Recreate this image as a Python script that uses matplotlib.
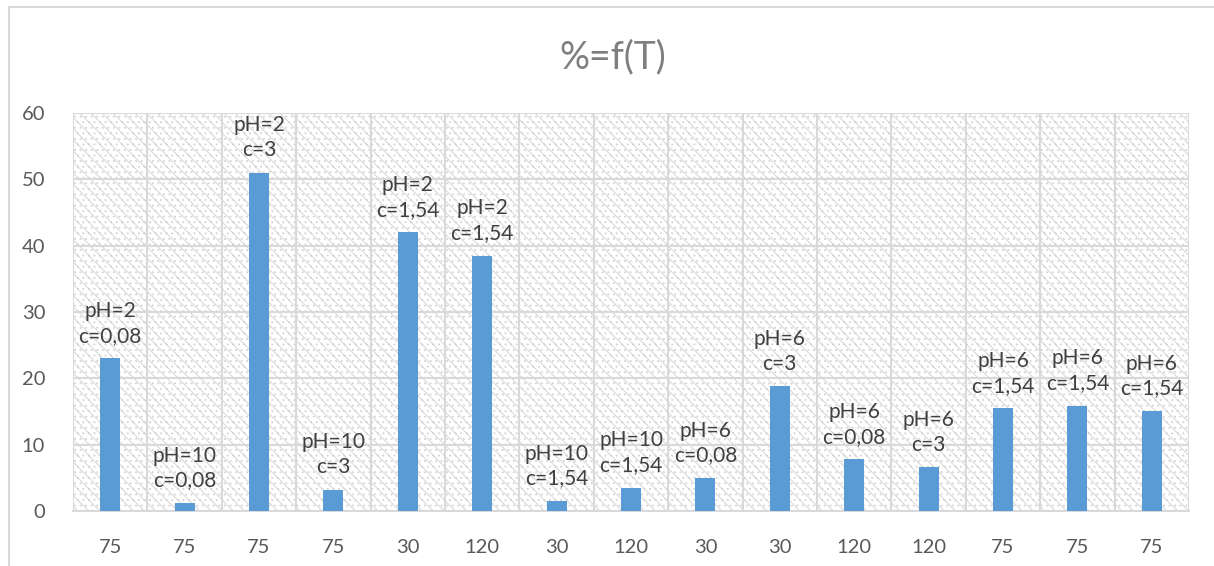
import numpy as np
import matplotlib.pyplot as plt
from matplotlib.patches import Rectangle

temps = ['75', '75', '75', '75', '30', '120', '30', '120', '30', '30', '120', '120', '75', '75', '75']
percent = [23, 1.2, 51, 3.2, 42, 38.5, 1.5, 3.5, 5, 18.8, 7.8, 6.6, 15.5, 15.9, 15.1]
ph = ['2', '10', '2', '10', '2', '2', '10', '10', '6', '6', '6', '6', '6', '6', '6']
conc = ['0,08', '0,08', '3', '3', '1,54', '1,54', '1,54', '1,54', '0,08', '3', '0,08', '3', '1,54', '1,54', '1,54']

plt.rcParams['font.family'] = ['Lato', 'DejaVu Sans']

fig = plt.figure(figsize=(12.14, 5.66), dpi=100)
# chart area border (only top/left visible in the crop)
fig.patches.append(Rectangle((9/1214, -0.1), 1.2, 1 - 6.5/566 + 0.1, transform=fig.transFigure,
                             fill=False, edgecolor='#D9D9D9', linewidth=1.5))

ax = fig.add_axes([73/1214, 1 - 511/566, 1116/1214, 398/566])
x = np.arange(len(percent))

# patterned background of the plot area
ax.set_facecolor('white')
plt.rcParams['hatch.linewidth'] = 0.7
bg = Rectangle((-0.5, 0), len(percent), 60, facecolor='white', edgecolor='#D6D6D6',
               hatch='\\\\\\...', linewidth=0, zorder=0)
ax.add_patch(bg)

ax.bar(x, percent, width=0.27, color='#5B9BD5', zorder=3)

for i in range(len(percent)):
    ax.annotate('pH=' + ph[i] + '\nc=' + conc[i], (x[i], percent[i]),
                xytext=(0, 9), textcoords='offset points', ha='center', va='bottom',
                fontsize=15, color='#404040', linespacing=1.3, zorder=4)

ax.set_xlim(-0.5, len(percent) - 0.5)
ax.set_ylim(0, 60)
ax.set_yticks(range(0, 61, 10))
ax.set_xticks(x)
ax.set_xticklabels(temps)
ax.set_xticks(np.arange(-0.5, len(percent), 1), minor=True)
ax.grid(axis='y', color='#D9D9D9', linewidth=1.5, zorder=1)
ax.grid(axis='x', which='minor', color='#D9D9D9', linewidth=1.5, zorder=1)
ax.tick_params(which='both', length=0)
ax.tick_params(axis='y', pad=20, labelsize=14.5, labelcolor='#595959')
ax.tick_params(axis='x', pad=20, labelsize=14.5, labelcolor='#595959')
for s in ['top', 'right', 'left']:
    ax.spines[s].set_visible(False)
ax.spines['bottom'].set_color('#D9D9D9')
ax.spines['bottom'].set_linewidth(1.5)

fig.text(613/1214, 1 - 57/566, '%=f(T)', ha='center', va='center', fontsize=27,
         color='#7F7F7F')

plt.savefig('out.png', dpi=100)
